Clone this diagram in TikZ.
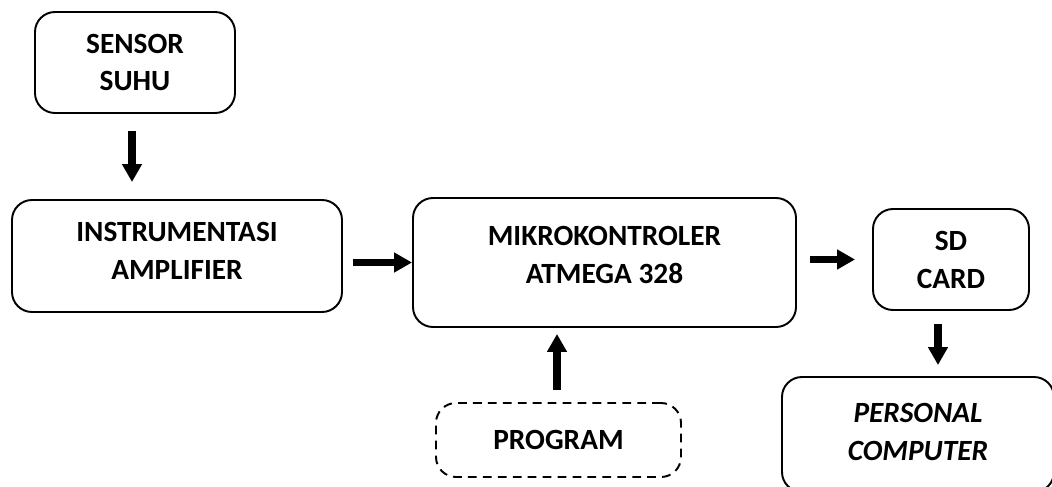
\documentclass[tikz,border=0pt]{standalone}
\usepackage{fontspec}
\setmainfont{Carlito}
\usepackage{tikz}
\usetikzlibrary{arrows.meta, positioning, calc}

\begin{document}
\begin{tikzpicture}[
    box/.style={rectangle, draw, line width=1.1pt, rounded corners=0.4cm, align=center,
        font=\fontsize{16.7}{21.6}\selectfont\bfseries},
    dashbox/.style={box, dash pattern=on 5pt off 3.5pt},
    arrow/.style={-{Triangle[length=0.36cm, width=0.38cm]}, line width=4pt}
]
\useasboundingbox (0,0) rectangle (21.04,9.72);

% Blocks
\node (sensor) [box, minimum width=4cm, minimum height=2.02cm] at (2.70,8.47) {SENSOR\\SUHU};
\node (instr) [box, minimum width=6.6cm, minimum height=2.24cm, text depth=0.2cm] at (3.54,4.60) {INSTRUMENTASI\\AMPLIFIER};
\node (mikro) [box, minimum width=7.66cm, minimum height=2.58cm, text depth=0.32cm] at (12.09,4.47) {MIKROKONTROLER\\ATMEGA 328};
\node (sd) [box, minimum width=3.12cm, minimum height=2.02cm] at (19.02,4.53) {SD\\CARD};
\node (program) [dashbox, minimum width=4.9cm, minimum height=1.48cm] at (11.17,0.92) {PROGRAM};
\node (pc) [box, minimum width=5.44cm, minimum height=2.3cm, text depth=0.1cm] at (18.36,1.03) {\itshape PERSONAL\\\itshape COMPUTER};

% Arrows
\draw[arrow, shorten <=0.34cm, shorten >=0.34cm] ([xshift=-0.06cm]sensor.south) -- ([xshift=-0.06cm]sensor.south |- instr.north);
\draw[arrow, shorten <=0.2cm] (instr.east |- mikro.west) -- (mikro.west);
\draw[arrow, shorten <=0.26cm, shorten >=0.34cm] (mikro.east |- sd.west) -- (sd.west);
\draw[arrow, shorten <=0.26cm, shorten >=0.22cm] ([xshift=-0.26cm]sd.south) -- ([xshift=-0.26cm]sd.south |- pc.north);
\draw[arrow, shorten <=0.24cm, shorten >=0.12cm] ([xshift=-0.03cm]program.north) -- ([xshift=-0.03cm]program.north |- mikro.south);

\end{tikzpicture}
\end{document}
